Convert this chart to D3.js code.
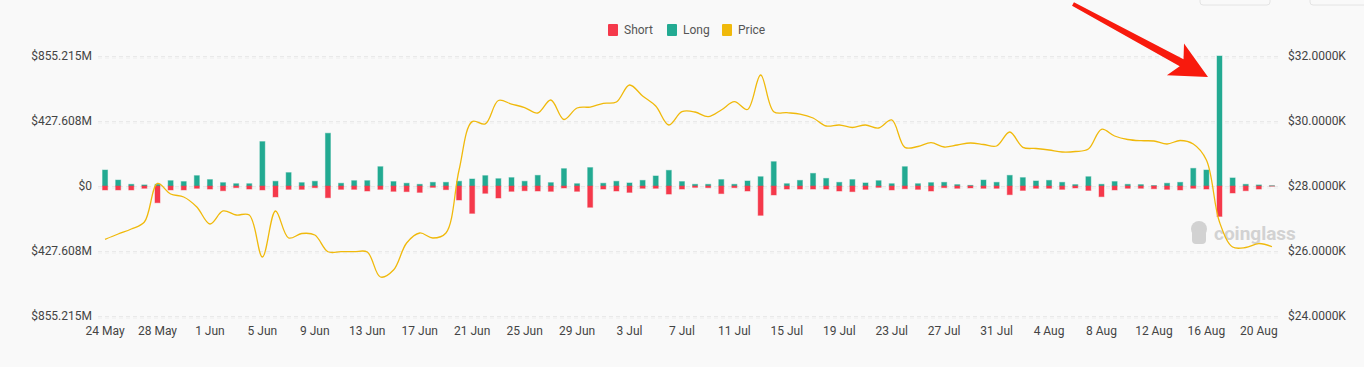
<!DOCTYPE html>
<meta charset="utf-8">
<script src="https://d3js.org/d3.v7.min.js"></script>
<style>
  body { margin: 0; background: #f9f9f9; font-family: Roboto, "Noto Sans", sans-serif; }
</style>
<div id="viz"></div>
<script>
// daily categories 24 May .. 21 Aug
var days = d3.timeDay.range(new Date(2023, 4, 24), new Date(2023, 7, 22));
var dates = days.map(d3.timeFormat("%-d %b"));

var tickLabels = ["24 May","28 May","1 Jun","5 Jun","9 Jun","13 Jun","17 Jun","21 Jun","25 Jun","29 Jun",
  "3 Jul","7 Jul","11 Jul","15 Jul","19 Jul","23 Jul","27 Jul","31 Jul","4 Aug","8 Aug","12 Aug","16 Aug","20 Aug"];

// long liquidations, $M
var longVals = [105,39,11,7,11,35,29,68,42,22,15,15,292,31,88,22,31,347,18,35,35,127,29,18,11,24,24,31,46,68,
  48,55,31,70,22,114,15,121,18,31,20,37,66,103,29,11,11,42,11,33,61,160,15,37,83,50,24,42,20,35,
  15,127,15,22,24,9,4,39,24,70,55,33,37,24,9,61,11,29,11,9,3,18,24,116,105,855.215,53,11,7,2];

// short liquidations, $M (drawn below zero)
var shortVals = [26,26,26,15,110,26,26,15,20,31,11,20,26,72,22,22,11,77,22,22,33,22,35,37,42,9,24,92,180,48,
  79,35,31,33,35,13,35,140,20,33,42,15,15,53,20,9,11,50,11,33,193,59,20,20,20,20,33,37,22,9,
  26,18,22,33,11,15,13,15,15,57,29,15,15,22,13,29,70,26,15,15,18,22,26,15,20,200,46,31,20,1];

// BTC price, $
var prices = [26360,26523,26677,26892,28077,27754,27662,27354,26831,27231,27108,27108,25815,27231,26400,26538,26492,25978,25978,25978,
  25969,25200,25415,26246,26554,26400,26554,28492,29980,29910,30630,30520,30415,30246,30646,30046,30400,30430,30545,30585,
  31108,30770,30460,29877,30286,30277,30132,30338,30594,30354,31415,30286,30255,30215,30092,29846,29877,29800,29877,29785,
  30031,29190,29215,29332,29200,29261,29323,29277,29231,29662,29190,29154,29108,29046,29061,29138,29745,29538,29431,29394,
  29385,29292,29400,29292,28800,26890,26123,26108,26230,26132];

var leftTicks = [855.215, 427.608, 0, -427.608, -855.215];
var rightTicks = [32000, 30000, 28000, 26000, 24000];

var W = 1364, H = 367;
var red = "#f5394b", teal = "#23aa92", gold = "#f0b90b";

var svg = d3.select("#viz").append("svg")
  .attr("width", W).attr("height", H)
  .style("display", "block");

svg.append("rect").attr("width", W).attr("height", H).attr("fill", "#f9f9f9");

// faint button outlines at the top right
svg.append("rect").attr("x", 1200).attr("y", -10).attr("width", 70).attr("height", 15)
  .attr("rx", 3).attr("fill", "none").attr("stroke", "#e4e4e4");
svg.append("rect").attr("x", 1310).attr("y", -10).attr("width", 70).attr("height", 15)
  .attr("rx", 3).attr("fill", "none").attr("stroke", "#e4e4e4");

var x = d3.scaleBand().domain(dates).range([98.5, 1278.5]).padding(0);
var yL = d3.scaleLinear().domain([-855.215, 855.215]).range([316, 56]);
var yR = d3.scaleLinear().domain([24000, 32000]).range([316, 56]);
var cx = function (d) { return x(d) + x.bandwidth() / 2; };

// grid lines (left + right axes)
svg.append("g").selectAll("line").data(leftTicks).join("line")
  .attr("x1", 98).attr("x2", 1279)
  .attr("y1", d => Math.round(yL(d)) + 0.5).attr("y2", d => Math.round(yL(d)) + 0.5)
  .attr("stroke", "#e9e9e9").attr("stroke-dasharray", "4,3");
svg.append("g").selectAll("line").data(rightTicks).join("line")
  .attr("x1", 98).attr("x2", 1279)
  .attr("y1", d => Math.round(yR(d)) + 2).attr("y2", d => Math.round(yR(d)) + 2)
  .attr("stroke", "#eeeeee").attr("stroke-dasharray", "4,3");

// axis labels
var fmtL = function (v) { return v === 0 ? "$0" : "$" + d3.format(".3f")(Math.abs(v)) + "M"; };
svg.append("g").selectAll("text").data(leftTicks).join("text")
  .attr("x", 92).attr("y", d => yL(d)).attr("dy", "0.35em")
  .attr("text-anchor", "end").attr("font-size", 12).attr("fill", "#444")
  .text(fmtL);
svg.append("g").selectAll("text").data(rightTicks).join("text")
  .attr("x", 1288).attr("y", d => yR(d)).attr("dy", "0.35em")
  .attr("font-size", 12).attr("fill", "#444")
  .text(d => "$" + d3.format(".4f")(d / 1000) + "K");
svg.append("g").selectAll("text").data(tickLabels).join("text")
  .attr("x", d => cx(d)).attr("y", 331).attr("dy", "0.35em")
  .attr("text-anchor", "middle").attr("font-size", 12).attr("fill", "#444")
  .text(d => d);

// watermark
var wm = svg.append("g").attr("fill", "#d2d2d2");
wm.append("circle").attr("cx", 1199).attr("cy", 229).attr("r", 8);
wm.append("rect").attr("x", 1192).attr("y", 230).attr("width", 14).attr("height", 14).attr("rx", 4);
wm.append("text").attr("x", 1214).attr("y", 240).attr("font-size", 19).attr("font-weight", "bold")
  .attr("font-family", "Roboto, sans-serif").text("coinglass");

// bars
var bw = 5;
svg.append("g").selectAll("rect").data(dates).join("rect")
  .attr("x", d => cx(d) - bw / 2).attr("width", bw)
  .attr("y", (d, i) => yL(longVals[i]))
  .attr("height", (d, i) => yL(0) - yL(longVals[i]))
  .attr("fill", teal).attr("stroke", teal).attr("stroke-opacity", 0.45);
svg.append("g").selectAll("rect").data(dates).join("rect")
  .attr("x", d => cx(d) - bw / 2).attr("width", bw)
  .attr("y", yL(0))
  .attr("height", (d, i) => yL(-shortVals[i]) - yL(0))
  .attr("fill", red).attr("stroke", red).attr("stroke-opacity", 0.45);

// price line
var line = d3.line()
  .x((d, i) => cx(dates[i]))
  .y(d => yR(d))
  .curve(d3.curveCatmullRom.alpha(0.5));
svg.append("path").datum(prices)
  .attr("d", line).attr("fill", "none")
  .attr("stroke", gold).attr("stroke-width", 1.3);

// legend
var legend = [["Short", red, 608], ["Long", teal, 667], ["Price", gold, 722]];
var lg = svg.append("g").selectAll("g").data(legend).join("g");
lg.append("rect").attr("x", d => d[2]).attr("y", 24).attr("width", 10).attr("height", 12)
  .attr("rx", 1).attr("fill", d => d[1]);
lg.append("text").attr("x", d => d[2] + 16).attr("y", 30).attr("dy", "0.35em")
  .attr("font-size", 12).attr("fill", "#555").text(d => d[0]);

// annotation arrow
var tail = [1073, 4], tip = [1208, 77];
var dx = tip[0] - tail[0], dy = tip[1] - tail[1], len = Math.hypot(dx, dy);
var u = [dx / len, dy / len], n = [-u[1], u[0]];
var at = function (p, a, b) { return [p[0] + u[0] * a + n[0] * b, p[1] + u[1] * a + n[1] * b]; };
var pts = [at(tail, 0, 2), at(tip, -30, 4), at(tip, -37, 18), tip, at(tip, -37, -18), at(tip, -30, -4), at(tail, 0, -2)];
svg.append("polygon").attr("points", pts.map(p => p.join(",")).join(" ")).attr("fill", "#f81a0d");
</script>
